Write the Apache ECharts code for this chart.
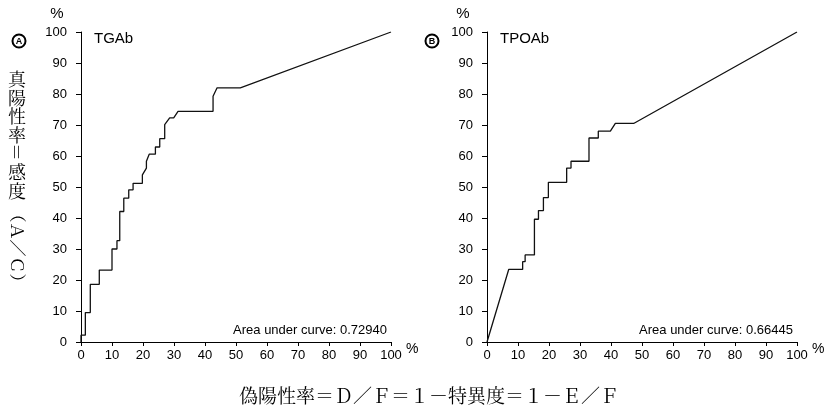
<!DOCTYPE html>
<html>
<head>
<meta charset="utf-8">
<script src="https://cdn.jsdelivr.net/npm/echarts@6/dist/echarts.min.js"></script>
<style>
html, body { margin: 0; padding: 0; background: #fff; }
#main { width: 828px; height: 406px; }
</style>
</head>
<body>
<div id="main"></div>
<script>
// TGAb ROC curve (false positive %, true positive %)
var tgabFpr = [0, 0, 1.4, 1.4, 3.0, 3.0, 5.9, 5.9, 10.0, 10.0, 11.6, 11.6, 12.5, 12.5, 13.8, 13.8, 15.4, 15.4, 16.8, 16.8, 19.8, 19.8, 21.1, 21.1, 22.0, 24.0, 24.0, 25.4, 25.4, 27.0, 27.0, 28.6, 29.9, 31.3, 42.6, 42.6, 43.9, 51.4, 100];
var tgabTpr = [0, 2.2, 2.2, 9.5, 9.5, 18.6, 18.6, 23.2, 23.2, 30.0, 30.0, 32.7, 32.7, 42.1, 42.1, 46.4, 46.4, 49.1, 49.1, 51.2, 51.2, 53.9, 56.1, 58.3, 60.6, 60.6, 62.9, 62.9, 65.6, 65.6, 70.1, 72.3, 72.3, 74.4, 74.4, 79.3, 82.0, 82.0, 100];
// TPOAb ROC curve
var tpoFpr = [0, 7.0, 11.5, 11.5, 12.3, 12.3, 15.3, 15.3, 16.6, 16.6, 18.2, 18.2, 19.8, 19.8, 25.7, 25.7, 27.1, 27.1, 32.9, 32.9, 35.9, 35.9, 39.8, 41.4, 47.3, 100];
var tpoTpr = [0, 23.4, 23.4, 25.9, 25.9, 28.1, 28.1, 39.6, 39.6, 42.4, 42.4, 46.6, 46.6, 51.5, 51.5, 56.1, 56.1, 58.3, 58.3, 65.8, 65.8, 68.0, 68.0, 70.5, 70.5, 100];
var panelNames = ['TGAb', 'TPOAb'];
var panelTags = ['A', 'B'];
var aucTexts = ['Area under curve: 0.72940', 'Area under curve: 0.66445'];

function pairs(xs, ys) {
    var out = [];
    for (var i = 0; i < xs.length; i++) out.push([xs[i], ys[i]]);
    return out;
}

var chart = echarts.init(document.getElementById('main'), null, {renderer: 'canvas'});
var font = 'Liberation Sans, Arial, Helvetica, sans-serif';
var jpFont = "'Noto Serif CJK JP', 'Noto Sans CJK JP', serif";

function xAx(i) {
    return {
        type: 'value', gridIndex: i, min: 0, max: 100, interval: 10,
        axisLine: {lineStyle: {color: '#000', width: 1}},
        axisTick: {length: 4, lineStyle: {color: '#000'}},
        axisLabel: {color: '#000', fontSize: 13, fontFamily: font, margin: 7},
        splitLine: {show: false}
    };
}
function yAx(i) {
    return {
        type: 'value', gridIndex: i, min: 0, max: 100, interval: 10,
        axisLine: {show: true, lineStyle: {color: '#000', width: 1}},
        axisTick: {show: true, length: 5, lineStyle: {color: '#000'}},
        axisLabel: {color: '#000', fontSize: 13, fontFamily: font, margin: 14},
        splitLine: {show: false}
    };
}

var graphics = [];
var lefts = [81, 487];
for (var p = 0; p < 2; p++) {
    var L = lefts[p];
    graphics.push({type: 'text', left: L + 13, top: 31, style: {text: panelNames[p], font: '15px ' + font, fill: '#000'}});
    graphics.push({type: 'text', x: L - 24, y: 6, style: {text: '%', font: '15px ' + font, fill: '#000', textAlign: 'center'}});
    graphics.push({type: 'text', right: 828 - (L + 306), top: 324, style: {text: aucTexts[p], font: '13px ' + font, fill: '#000', textAlign: 'right'}});
    graphics.push({type: 'text', x: L + 325, y: 342, style: {text: '%', font: '14px ' + font, fill: '#000'}});
}
// circled panel tags
var tagX = [19, 432];
for (var t = 0; t < 2; t++) {
    graphics.push({type: 'circle', shape: {cx: tagX[t], cy: 41, r: 6.5}, style: {fill: '#fff', stroke: '#000', lineWidth: 2}});
    graphics.push({type: 'text', x: tagX[t], y: 41.5, style: {text: panelTags[t], font: 'bold 9px ' + font, fill: '#000', textAlign: 'center', textVerticalAlign: 'middle'}});
}
// vertical y label
graphics.push({type: 'text', x: 17, y: 70, style: {text: '真\n陽\n性\n率', font: '18px ' + jpFont, fill: '#000', textAlign: 'center', lineHeight: 18.5}});
graphics.push({type: 'text', x: 17, y: 152, rotation: -Math.PI / 2, style: {text: '＝', font: '18px ' + jpFont, fill: '#000', textAlign: 'center', textVerticalAlign: 'middle'}});
graphics.push({type: 'text', x: 17, y: 163, style: {text: '感\n度', font: '18px ' + jpFont, fill: '#000', textAlign: 'center', lineHeight: 18.5}});
graphics.push({type: 'text', x: 17, y: 248, rotation: -Math.PI / 2, style: {text: '（Ａ／Ｃ）', font: '17px ' + jpFont, fill: '#000', textAlign: 'center', textVerticalAlign: 'middle'}});
// x label
graphics.push({type: 'text', x: 429, y: 396, style: {text: '偽陽性率＝Ｄ／Ｆ＝１－特異度＝１－Ｅ／Ｆ', font: '19px ' + jpFont, fill: '#000', textAlign: 'center', textVerticalAlign: 'middle'}});

var option = {
    backgroundColor: '#fff',
    animation: false,
    grid: [
        {left: 81, top: 32, width: 310, height: 310},
        {left: 487, top: 32, width: 310, height: 310}
    ],
    xAxis: [xAx(0), xAx(1)],
    yAxis: [yAx(0), yAx(1)],
    series: [
        {type: 'line', xAxisIndex: 0, yAxisIndex: 0, data: pairs(tgabFpr, tgabTpr), symbol: 'none', lineStyle: {color: '#111', width: 1.3}},
        {type: 'line', xAxisIndex: 1, yAxisIndex: 1, data: pairs(tpoFpr, tpoTpr), symbol: 'none', lineStyle: {color: '#111', width: 1.3}}
    ],
    graphic: graphics
};
chart.setOption(option);
</script>
</body>
</html>
